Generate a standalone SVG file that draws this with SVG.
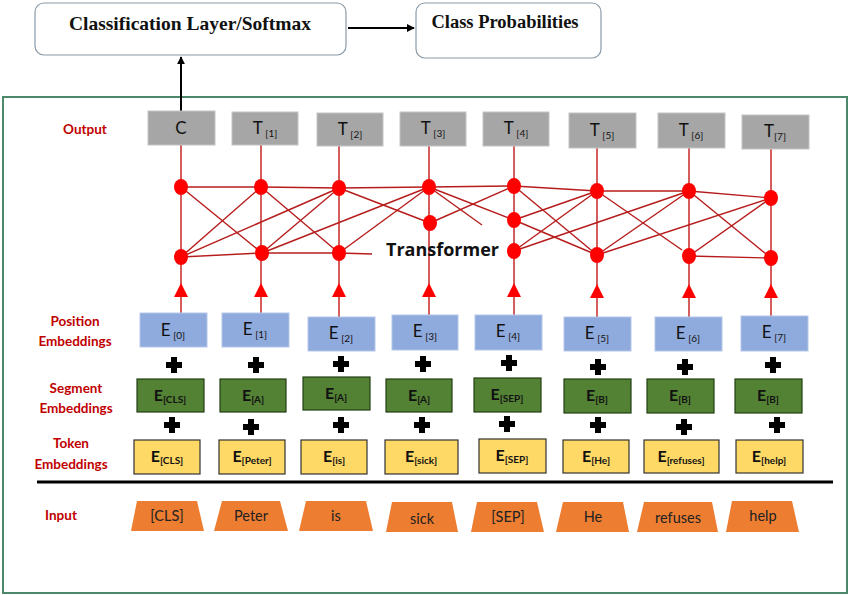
<svg xmlns="http://www.w3.org/2000/svg" width="850" height="595" viewBox="0 0 850 595">
<style>
.top{fill:#fff;stroke:#8a9aa8;stroke-width:1.2}
.ttl{font-family:"Liberation Serif",serif;font-weight:bold;font-size:18.5px;fill:#111;text-anchor:middle}
.lbl{font-family:Lato,"Open Sans",sans-serif;font-weight:bold;font-size:13.5px;fill:#c00000;text-anchor:middle}
.bx{font-family:Lato,"Open Sans",sans-serif;font-size:17px;fill:#111;text-anchor:middle}
.bxb{font-family:Lato,"Open Sans",sans-serif;font-size:16px;font-weight:bold;fill:#111;text-anchor:middle}
.sub{font-size:10px}
.out{fill:#a6a6a6;stroke:#c4c4c4;stroke-width:1}
.pos{fill:#8faadc;stroke:#b4c7e7;stroke-width:1}
.seg{fill:#548235;stroke:#233f15;stroke-width:1.2}
.tok{fill:#ffd966;stroke:#333;stroke-width:1.2}
.inp{fill:#ed7d31}
.inpt{font-family:Lato,"Open Sans",sans-serif;font-size:14.5px;fill:#222;text-anchor:middle}
.e{stroke:#b71c1c;stroke-width:1.4;fill:none}
.v{stroke:#c62828;stroke-width:1.5;fill:none}
.n{fill:#ff0000}
.ah{fill:#ff0000}
.tr{font-family:"Open Sans",Lato,sans-serif;font-weight:bold;font-size:18px;fill:#111}
</style>
<defs>
<marker id="blk" viewBox="0 0 10 10" refX="9" refY="5" markerWidth="8" markerHeight="8" orient="auto" markerUnits="userSpaceOnUse"><path d="M0,0L10,5L0,10z" fill="#000"/></marker>
<path id="plus" d="M-3,-8h6v5h5v6h-5v5h-6v-5h-5v-6h5z" fill="#000"/>
</defs>
<rect width="850" height="595" fill="#fff"/>
<rect x="3" y="97" width="844" height="496" fill="none" stroke="#4a8a6a" stroke-width="2"/>

<g id="classification"><rect class="top" x="35" y="3" width="311" height="52" rx="9"/><text class="ttl" x="190" y="30" style="font-size:19.5px">Classification Layer/Softmax</text></g>
<g id="classprob"><rect class="top" x="416" y="3" width="185" height="55" rx="9"/><text class="ttl" x="505" y="28">Class Probabilities</text></g>

<g id="connectors">
<line x1="348" y1="28" x2="414" y2="28" stroke="#000" stroke-width="2" marker-end="url(#blk)"/>
<line x1="181" y1="111" x2="181" y2="57" stroke="#000" stroke-width="2" marker-end="url(#blk)"/>
<line class="v" x1="181" y1="145" x2="181" y2="313"/>
<line class="v" x1="261" y1="145" x2="261" y2="313"/>
<line class="v" x1="339" y1="146" x2="339" y2="317"/>
<line class="v" x1="429" y1="146" x2="429" y2="315"/>
<line class="v" x1="514" y1="146" x2="514" y2="315"/>
<line class="v" x1="597" y1="148" x2="597" y2="317"/>
<line class="v" x1="689" y1="148" x2="689" y2="317"/>
<line class="v" x1="771" y1="149" x2="771" y2="316"/>
<polyline class="e" points="181,187 261,187 339,188 429,187 514,186 597,191 689,191 771,198"/>
<polyline class="e" points="181,257 262,253 339,253 372,254"/>
<line class="e" x1="689" y1="256" x2="771" y2="258"/>
<line class="e" x1="181" y1="187" x2="262" y2="253"/>
<line class="e" x1="261" y1="187" x2="181" y2="257"/>
<line class="e" x1="181" y1="257" x2="339" y2="188"/>
<line class="e" x1="261" y1="187" x2="339" y2="253"/>
<line class="e" x1="262" y1="253" x2="339" y2="188"/>
<line class="e" x1="262" y1="253" x2="429" y2="187"/>
<line class="e" x1="339" y1="188" x2="430" y2="223"/>
<line class="e" x1="339" y1="253" x2="429" y2="187"/>
<line class="e" x1="429" y1="187" x2="482" y2="225"/>
<line class="e" x1="430" y1="223" x2="514" y2="186"/>
<line class="e" x1="429" y1="187" x2="514" y2="220"/>
<line class="e" x1="514" y1="220" x2="597" y2="255"/>
<line class="e" x1="514" y1="186" x2="597" y2="255"/>
<line class="e" x1="514" y1="220" x2="597" y2="191"/>
<line class="e" x1="514" y1="251" x2="597" y2="191"/>
<line class="e" x1="514" y1="251" x2="689" y2="191"/>
<line class="e" x1="597" y1="191" x2="682" y2="250"/>
<line class="e" x1="597" y1="255" x2="689" y2="191"/>
<line class="e" x1="597" y1="255" x2="771" y2="198"/>
<line class="e" x1="689" y1="191" x2="771" y2="258"/>
<line class="e" x1="689" y1="256" x2="771" y2="198"/>
<path class="ah" d="M181,283l7,14h-14z"/>
<path class="ah" d="M261,283l7,14h-14z"/>
<path class="ah" d="M339,283l7,14h-14z"/>
<path class="ah" d="M429,283l7,14h-14z"/>
<path class="ah" d="M514,283l7,14h-14z"/>
<path class="ah" d="M597,284l7,14h-14z"/>
<path class="ah" d="M689,284l7,14h-14z"/>
<path class="ah" d="M771,284l7,14h-14z"/>
</g>

<g id="transformer-nodes">
<ellipse class="n" cx="181" cy="187" rx="7" ry="8"/>
<ellipse class="n" cx="261" cy="187" rx="7" ry="8"/>
<ellipse class="n" cx="339" cy="188" rx="7" ry="8"/>
<ellipse class="n" cx="429" cy="187" rx="7" ry="8"/>
<ellipse class="n" cx="514" cy="186" rx="7" ry="8"/>
<ellipse class="n" cx="597" cy="191" rx="7" ry="8"/>
<ellipse class="n" cx="689" cy="191" rx="7" ry="8"/>
<ellipse class="n" cx="771" cy="198" rx="7" ry="8"/>
<ellipse class="n" cx="430" cy="223" rx="7" ry="8"/>
<ellipse class="n" cx="514" cy="220" rx="7" ry="8"/>
<ellipse class="n" cx="181" cy="257" rx="7" ry="8"/>
<ellipse class="n" cx="262" cy="253" rx="7" ry="8"/>
<ellipse class="n" cx="339" cy="253" rx="7" ry="8"/>
<ellipse class="n" cx="514" cy="251" rx="7" ry="8"/>
<ellipse class="n" cx="597" cy="255" rx="7" ry="8"/>
<ellipse class="n" cx="689" cy="256" rx="7" ry="8"/>
<ellipse class="n" cx="771" cy="258" rx="7" ry="8"/>
<text class="tr" x="386" y="256">Transformer</text>
</g>

<g id="labels">
<text class="lbl" x="85" y="134">Output</text>
<text class="lbl" x="75" y="326">Position</text>
<text class="lbl" x="75" y="346">Embeddings</text>
<text class="lbl" x="76" y="393">Segment</text>
<text class="lbl" x="76" y="413">Embeddings</text>
<text class="lbl" x="71" y="448">Token</text>
<text class="lbl" x="71" y="469">Embeddings</text>
<text class="lbl" x="61" y="520">Input</text>
</g>

<g id="output-row">
<g id="out-c"><rect class="out" x="148" y="111" width="67" height="34"/><text class="bx" x="181" y="134">C</text></g>
<g id="out-t1"><rect class="out" x="232" y="112" width="66" height="33"/><text class="bx" x="265" y="134">T<tspan class="sub" dy="3"> [1]</tspan></text></g>
<g id="out-t2"><rect class="out" x="317" y="113" width="66" height="33"/><text class="bx" x="350" y="135">T<tspan class="sub" dy="3"> [2]</tspan></text></g>
<g id="out-t3"><rect class="out" x="400" y="112" width="66" height="34"/><text class="bx" x="433" y="134">T<tspan class="sub" dy="3"> [3]</tspan></text></g>
<g id="out-t4"><rect class="out" x="483" y="112" width="66" height="34"/><text class="bx" x="516" y="134">T<tspan class="sub" dy="3"> [4]</tspan></text></g>
<g id="out-t5"><rect class="out" x="569" y="113" width="67" height="35"/><text class="bx" x="602" y="136">T<tspan class="sub" dy="3"> [5]</tspan></text></g>
<g id="out-t6"><rect class="out" x="658" y="113" width="67" height="35"/><text class="bx" x="691" y="136">T<tspan class="sub" dy="3"> [6]</tspan></text></g>
<g id="out-t7"><rect class="out" x="742" y="115" width="67" height="34"/><text class="bx" x="775" y="137">T<tspan class="sub" dy="3">[7]</tspan></text></g>
</g>

<g id="position-row">
<g id="pos-0"><rect class="pos" x="140" y="313" width="67" height="34"/><text class="bx" x="173" y="336">E<tspan class="sub" dy="3"> [0]</tspan></text></g>
<g id="pos-1"><rect class="pos" x="222" y="313" width="67" height="34"/><text class="bx" x="255" y="335">E<tspan class="sub" dy="3"> [1]</tspan></text></g>
<g id="pos-2"><rect class="pos" x="308" y="317" width="67" height="34"/><text class="bx" x="341" y="339">E<tspan class="sub" dy="3"> [2]</tspan></text></g>
<g id="pos-3"><rect class="pos" x="392" y="315" width="66" height="35"/><text class="bx" x="425" y="337">E<tspan class="sub" dy="3"> [3]</tspan></text></g>
<g id="pos-4"><rect class="pos" x="475" y="315" width="67" height="35"/><text class="bx" x="508" y="337">E<tspan class="sub" dy="3"> [4]</tspan></text></g>
<g id="pos-5"><rect class="pos" x="564" y="317" width="67" height="34"/><text class="bx" x="597" y="339">E<tspan class="sub" dy="3"> [5]</tspan></text></g>
<g id="pos-6"><rect class="pos" x="655" y="317" width="67" height="34"/><text class="bx" x="688" y="339">E<tspan class="sub" dy="3"> [6]</tspan></text></g>
<g id="pos-7"><rect class="pos" x="741" y="316" width="67" height="35"/><text class="bx" x="774" y="338">E<tspan class="sub" dy="3"> [7]</tspan></text></g>
</g>

<g id="plus-signs">
<use href="#plus" x="174" y="365"/><use href="#plus" x="256" y="365"/><use href="#plus" x="341" y="364"/><use href="#plus" x="423" y="364"/>
<use href="#plus" x="509" y="363"/><use href="#plus" x="598" y="367"/><use href="#plus" x="685" y="367"/><use href="#plus" x="773" y="365"/>
<use href="#plus" x="172" y="425"/><use href="#plus" x="251" y="427"/><use href="#plus" x="341" y="425"/><use href="#plus" x="422" y="425"/>
<use href="#plus" x="507" y="424"/><use href="#plus" x="598" y="425"/><use href="#plus" x="684" y="427"/><use href="#plus" x="777" y="425"/>
</g>

<g id="segment-row">
<g id="seg-0"><rect class="seg" x="137" y="379" width="67" height="33"/><text class="bxb" x="170" y="401">E<tspan class="sub" dy="2">[CLS]</tspan></text></g>
<g id="seg-1"><rect class="seg" x="220" y="379" width="66" height="33"/><text class="bxb" x="253" y="401">E<tspan class="sub" dy="2">[A]</tspan></text></g>
<g id="seg-2"><rect class="seg" x="303" y="377" width="67" height="33"/><text class="bxb" x="336" y="399">E<tspan class="sub" dy="2">[A]</tspan></text></g>
<g id="seg-3"><rect class="seg" x="386" y="379" width="66" height="33"/><text class="bxb" x="419" y="401">E<tspan class="sub" dy="2">[A]</tspan></text></g>
<g id="seg-4"><rect class="seg" x="474" y="378" width="67" height="34"/><text class="bxb" x="507" y="400">E<tspan class="sub" dy="2">[SEP]</tspan></text></g>
<g id="seg-5"><rect class="seg" x="564" y="379" width="67" height="34"/><text class="bxb" x="597" y="401">E<tspan class="sub" dy="2">[B]</tspan></text></g>
<g id="seg-6"><rect class="seg" x="647" y="379" width="67" height="34"/><text class="bxb" x="680" y="401">E<tspan class="sub" dy="2">[B]</tspan></text></g>
<g id="seg-7"><rect class="seg" x="735" y="379" width="67" height="34"/><text class="bxb" x="768" y="401">E<tspan class="sub" dy="2">[B]</tspan></text></g>
</g>

<g id="token-row">
<g id="tok-0"><rect class="tok" x="134" y="440" width="66" height="34"/><text class="bxb" x="167" y="462">E<tspan class="sub" dy="2">[CLS]</tspan></text></g>
<g id="tok-1"><rect class="tok" x="219" y="440" width="66" height="34"/><text class="bxb" x="252" y="462">E<tspan class="sub" dy="2">[Peter]</tspan></text></g>
<g id="tok-2"><rect class="tok" x="301" y="440" width="66" height="34"/><text class="bxb" x="334" y="462">E<tspan class="sub" dy="2">[is]</tspan></text></g>
<g id="tok-3"><rect class="tok" x="385" y="440" width="73" height="34"/><text class="bxb" x="421" y="462">E<tspan class="sub" dy="2">[sick]</tspan></text></g>
<g id="tok-4"><rect class="tok" x="479" y="439" width="67" height="34"/><text class="bxb" x="512" y="461">E<tspan class="sub" dy="2">[SEP]</tspan></text></g>
<g id="tok-5"><rect class="tok" x="563" y="440" width="66" height="33"/><text class="bxb" x="596" y="462">E<tspan class="sub" dy="2">[He]</tspan></text></g>
<g id="tok-6"><rect class="tok" x="644" y="440" width="75" height="33"/><text class="bxb" x="681" y="462">E<tspan class="sub" dy="2">[refuses]</tspan></text></g>
<g id="tok-7"><rect class="tok" x="736" y="440" width="67" height="33"/><text class="bxb" x="769" y="462">E<tspan class="sub" dy="2">[help]</tspan></text></g>
</g>

<line id="separator" x1="37" y1="482" x2="833" y2="482" stroke="#000" stroke-width="3"/>

<g id="input-row">
<g id="in-0"><path class="inp" d="M137,501H197L204,531H131z"/><text class="inpt" x="167" y="521">[CLS]</text></g>
<g id="in-1"><path class="inp" d="M222,501H280L288,531H214z"/><text class="inpt" x="251" y="521">Peter</text></g>
<g id="in-2"><path class="inp" d="M306,501H366L373,531H299z"/><text class="inpt" x="336" y="521">is</text></g>
<g id="in-3"><path class="inp" d="M392,502H452L458,532H386z"/><text class="inpt" x="422" y="524">sick</text></g>
<g id="in-4"><path class="inp" d="M477,502H537L544,532H471z"/><text class="inpt" x="508" y="522">[SEP]</text></g>
<g id="in-5"><path class="inp" d="M563,502H623L629,532H556z"/><text class="inpt" x="593" y="522">He</text></g>
<g id="in-6"><path class="inp" d="M644,502H712L718,532H637z"/><text class="inpt" x="678" y="523">refuses</text></g>
<g id="in-7"><path class="inp" d="M732,501H792L799,532H726z"/><text class="inpt" x="763" y="521">help</text></g>
</g>
</svg>
